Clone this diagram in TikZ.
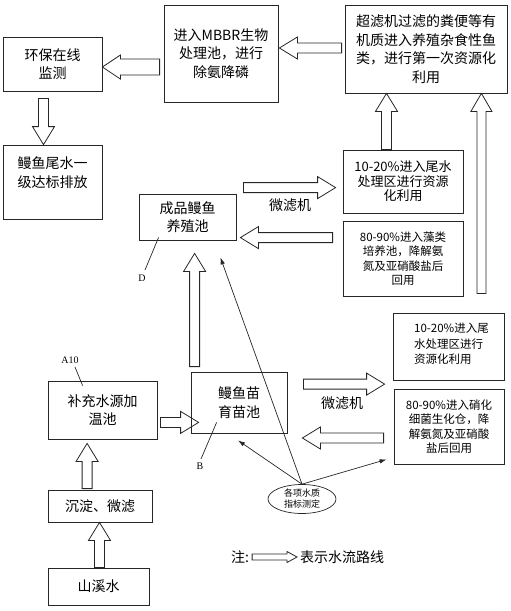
\documentclass[tikz,border=0pt]{standalone}
\usepackage{fontspec}
\setmainfont{Noto Sans CJK SC}
\newfontfamily\lblfont{Liberation Serif}
\usetikzlibrary{calc,arrows.meta,shapes.geometric}
\tikzset{
  box/.style={draw=black!85, line width=0.8pt, inner sep=0pt, align=center, font=\fontsize{14}{18.5}\selectfont},
  smallbox/.style={box, font=\fontsize{11.5}{14.5}\selectfont},
  flow/.style={draw=black!85, line width=0.8pt, line join=miter},
  thin/.style={draw=black!85, line width=0.7pt},
  thinarrow/.style={thin, -{Latex[length=7pt,width=4.5pt]}},
  lbl/.style={font=\lblfont\fontsize{10}{11}\selectfont, inner sep=0pt},
  plain/.style={inner sep=0pt, font=\fontsize{14}{18}\selectfont}
}
% #1 shaft half width, #2 head half width, #3 head length, #4 start, #5 end
\newcommand\flowarrowgen[5]{%
 \draw[flow] let \p1=#4, \p2=#5, \n1={veclen(\x2-\x1,\y2-\y1)}, \n2={(\x2-\x1)/\n1}, \n3={(\y2-\y1)/\n1} in
  ({(\x1)-(#1)*(\n3)},{(\y1)+(#1)*(\n2)})
  -- ({(\x2)-(#3)*(\n2)-(#1)*(\n3)},{(\y2)-(#3)*(\n3)+(#1)*(\n2)})
  -- ({(\x2)-(#3)*(\n2)-(#2)*(\n3)},{(\y2)-(#3)*(\n3)+(#2)*(\n2)})
  -- (\p2)
  -- ({(\x2)-(#3)*(\n2)+(#2)*(\n3)},{(\y2)-(#3)*(\n3)-(#2)*(\n2)})
  -- ({(\x2)-(#3)*(\n2)+(#1)*(\n3)},{(\y2)-(#3)*(\n3)-(#1)*(\n2)})
  -- ({(\x1)+(#1)*(\n3)},{(\y1)-(#1)*(\n2)}) -- cycle;}
\newcommand\flowarrow[2]{\flowarrowgen{5}{11}{18}{#1}{#2}}
\begin{document}
\begin{tikzpicture}[x=1pt,y=-1pt]
\useasboundingbox (0,0) rectangle (511,611);
% boxes
\node[box, minimum width=99pt, minimum height=54pt] (huanbao) at (52.5,64) {环保在线\\监测};
\node[box, minimum width=114pt, minimum height=97pt] (mbbr) at (221,53.5) {进入MBBR生物\\处理池，进行\\除氨降磷};
\node[box, minimum width=162pt, minimum height=88pt] (chaolv) at (426,49) {超滤机过滤的粪便等有\\机质进入养殖杂食性鱼\\类，进行第一次资源化\\利用};
\node[box, minimum width=99pt, minimum height=74pt] (paifang) at (52.5,182) {};
\node[plain, align=center, font=\fontsize{14}{19}\selectfont] (paifangtxt) at ($(paifang)+(0,-9.5)$) {鳗鱼尾水一\\级达标排放};
\node[box, minimum width=120pt, minimum height=63pt, font=\fontsize{13}{14.5}\selectfont] (up1020) at (403,181.5) {10-20\%进入尾水\\处理区进行资源\\化利用};
\node[smallbox, minimum width=120pt, minimum height=75pt] (algae) at (403,258.5) {80-90\%进入藻类\\培养池，降解氨\\氮及亚硝酸盐后\\回用};
\node[box, minimum width=97pt, minimum height=46pt] (chengpin) at (187.5,217) {成品鳗鱼\\养殖池};
\node[smallbox, minimum width=111pt, minimum height=67pt] (lo1020) at (448.5,346.5) {};
\node[plain, align=left, font=\fontsize{11.5}{15.5}\selectfont] (lo1020txt) at ($(lo1020)+(3,-2.5)$) {10-20\%进入尾\\水处理区进行\\资源化利用};
\node[smallbox, minimum width=110pt, minimum height=75pt] (nitr) at (449,426.5) {80-90\%进入硝化\\细菌生化仓，降\\解氨氮及亚硝酸\\盐后回用};
\node[box, minimum width=96pt, minimum height=61pt] (miao) at (239,402.5) {鳗鱼苗\\育苗池};
\node[box, minimum width=109pt, minimum height=58pt] (jiawen) at (102.5,410) {补充水源加\\温池};
\node[box, minimum width=104pt, minimum height=32pt] (chendian) at (100,506) {沉淀、微滤};
\node[box, minimum width=101pt, minimum height=37pt] (shanxi) at (98.5,586.5) {山溪水};
\node[draw=black!85, line width=0.7pt, ellipse, minimum width=68pt, minimum height=29pt, inner sep=0pt, align=center, font=\fontsize{9}{11}\selectfont] (ellipse) at (302,499) {各项水质\\指标测定};
% labels
\node[plain] (wl1) at (290,205) {微滤机};
\node[plain] (wl2) at (342,403) {微滤机};
\node[lbl] (lblA) at (70,360) {A10};
\node[lbl] (lblB) at (200,466) {B};
\node[lbl] (lblD) at (142,278) {D};
\node[plain] (note) at (240,557) {注:};
\node[plain, anchor=west] (notetxt) at (300,557) {表示水流路线};
% block arrows
\flowarrow{($(chaolv.west)+(-3,-1)$)}{($(mbbr.east |- chaolv.west)+(1,-1)$)}
\flowarrowgen{8}{12}{18}{($(mbbr.west |- huanbao.east)+(-4,3)$)}{($(huanbao.east)+(0,3)$)}
\coordinate (a3s) at ($(huanbao.south)+(-9,7)$);
\flowarrow{(a3s)}{(a3s |- paifang.north)}
\coordinate (a4s) at ($(up1020.north)+(-16.5,0)$);
\flowarrow{(a4s)}{(a4s |- chaolv.south)}
\coordinate (a5s) at ($(algae.south east)+(18,-3)$);
\flowarrowgen{4.5}{10.5}{18}{(a5s)}{(a5s |- chaolv.south)}
\coordinate (a6s) at ($(chengpin.north east)+(7,-6)$);
\flowarrow{(a6s)}{($(up1020.west |- a6s)+(-7,0)$)}
\coordinate (a7s) at ($(algae.north west)+(-10,17)$);
\flowarrow{(a7s)}{($(chengpin.east |- a7s)+(4,0)$)}
\coordinate (a8s) at ($(miao.north west)+(4,-5)$);
\flowarrow{(a8s)}{($(a8s |- chengpin.south)+(0,13)$)}
\coordinate (a9s) at ($(jiawen.south east)+(3,-17)$);
\flowarrow{(a9s)}{($(miao.west |- a9s)+(8,0)$)}
\coordinate (a10s) at ($(miao.north east)+(16,12.5)$);
\flowarrow{(a10s)}{($(lo1020.west |- a10s)+(-8,0)$)}
\coordinate (a11s) at ($(nitr.west)+(-10,11.5)$);
\flowarrow{(a11s)}{($(miao.east |- a11s)+(15,0)$)}
\coordinate (a12s) at ($(chendian.north west)+(39.5,-1)$);
\flowarrow{(a12s)}{($(a12s |- jiawen.south)+(0,4)$)}
\coordinate (a13s) at ($(shanxi.north)+(1,0)$);
\flowarrow{(a13s)}{(a13s |- chendian.south)}
\flowarrowgen{3}{5.5}{10}{($(note.east)+(3,0)$)}{($(notetxt.west)+(-3,0)$)}
% thin arrows
\draw[thinarrow] (ellipse.north) -- ($(chengpin.south east)+(-16,17)$);
\draw[thinarrow] (ellipse.north) -- ($(miao.south)+(-1,7)$);
\draw[thinarrow] (ellipse.north) -- ($(nitr.south west)+(-7,-5)$);
% label leaders
\draw[thin] ($(lblA)+(5,7)$) -- ($(jiawen.north west)+(35,5)$);
\draw[thin] ($(lblB)+(1,-7)$) -- ($(miao.south west)+(26,-11)$);
\draw[thin] ($(lblD)+(3,-8)$) -- ($(chengpin.south west)+(20,-3)$);
\end{tikzpicture}
\end{document}
